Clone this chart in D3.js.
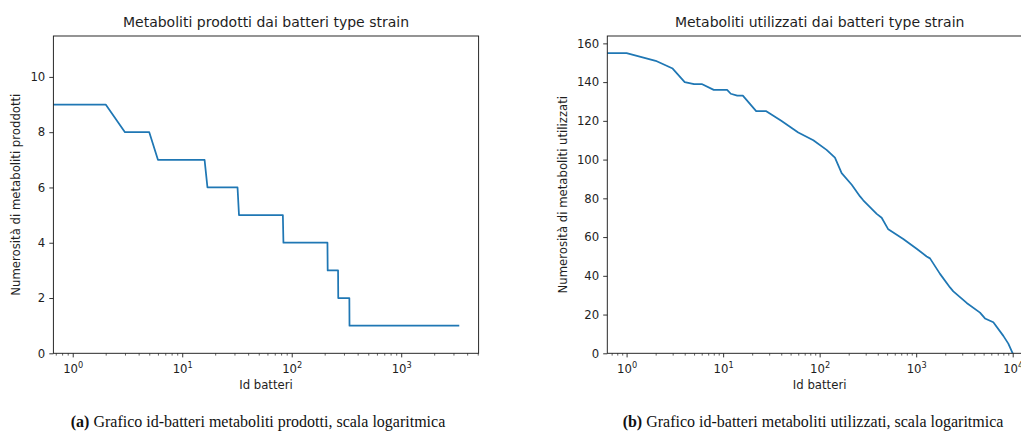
<!DOCTYPE html>
<html>
<head>
<meta charset="utf-8">
<script src="https://cdn.jsdelivr.net/npm/d3@7"></script>
<style>
  body { margin: 0; background: #fff; }
  svg { display: block; }
  .tick text { font-family: "DejaVu Sans", sans-serif; }
</style>
</head>
<body>
<svg id="chart" width="1021" height="431"></svg>
<script>
// Panel (a): metaboliti prodotti, step ranking (id, value) at the corners
const prodIds    = [0, 2, 3, 5, 6, 16, 17, 32, 33, 83, 84, 212, 213, 265, 266, 336, 337, 3390];
const prodValues = [9, 9, 8, 8, 7, 7, 6, 6, 5, 5, 4, 4, 3, 3, 2, 2, 1, 1];
const prodYTicks = [0, 2, 4, 6, 8, 10];

// Panel (b): metaboliti utilizzati
const usedIds    = [0, 1, 2, 3, 4, 5, 6, 8, 11, 12, 14, 16, 22, 28, 40, 60, 86, 118, 144, 169,
                    215, 262, 283, 390, 439, 514, 735, 1011, 1284, 1391, 1766, 2241, 2426, 3337,
                    4584, 5164, 6300, 8000, 9010, 10000];
const usedValues = [155, 155, 151, 147, 140, 139, 139, 136, 136, 134, 133, 133, 125, 125, 120, 114, 110, 105, 101, 93,
                    87, 81, 79, 72, 70, 64, 59, 54, 50, 49, 41, 34, 32, 26,
                    21, 18, 16, 9, 5, 0];
const usedYTicks = [0, 20, 40, 60, 80, 100, 120, 140, 160];

const panels = [
    {
        ids: prodIds, values: prodValues, yTicks: prodYTicks, yMax: 11.48,
        left: 53.4, right: 478.6, labelX: 16,
        title: 'Metaboliti prodotti dai batteri type strain',
        ylabel: 'Numerosità di metaboliti proddotti',
        tag: '(a)', caption: ' Grafico id-batteri metaboliti prodotti, scala logaritmica', capX: 258
    },
    {
        ids: usedIds, values: usedValues, yTicks: usedYTicks, yMax: 163.8,
        left: 607.3, right: 1032, labelX: 563,
        title: 'Metaboliti utilizzati dai batteri type strain',
        ylabel: 'Numerosità di metaboliti utilizzati',
        tag: '(b)', caption: ' Grafico id-batteri metaboliti utilizzati, scala logaritmica', capX: 813
    }
];

const plotTop = 36, plotBottom = 353.3;
const ink = '#1e1e1e';
const svg = d3.select('#chart');

panels.forEach((p, i) => {
    // log x-domain with matplotlib-like 5% padding in log space
    const lo = 1, hi = d3.max(p.ids);
    const pad = 0.05 * (Math.log10(hi) - Math.log10(lo));
    const x = d3.scaleLog()
        .domain([Math.pow(10, Math.log10(lo) - pad), Math.pow(10, Math.log10(hi) + pad)])
        .range([p.left, p.right]);
    const y = d3.scaleLinear().domain([0, p.yMax]).range([plotBottom, plotTop]);

    const g = svg.append('g');

    g.append('clipPath').attr('id', 'clip' + i)
        .append('rect')
        .attr('x', p.left).attr('y', plotTop)
        .attr('width', p.right - p.left).attr('height', plotBottom - plotTop);

    // line
    const pts = p.ids.map((id, k) => [id, p.values[k]]);
    const line = d3.line()
        .x(d => x(Math.max(d[0], 1e-6)))
        .y(d => y(d[1]));
    g.append('path')
        .datum(pts)
        .attr('clip-path', `url(#clip${i})`)
        .attr('d', line)
        .attr('fill', 'none')
        .attr('stroke', '#1f77b4')
        .attr('stroke-width', 1.75)
        .attr('stroke-linejoin', 'round');

    // minor x ticks
    const [d0, d1] = x.domain();
    const minors = [];
    for (let e = Math.floor(Math.log10(d0)); e <= Math.ceil(Math.log10(d1)); e++) {
        for (let m = 2; m <= 9; m++) {
            const v = m * Math.pow(10, e);
            if (v >= d0 && v <= d1) minors.push(v);
        }
    }
    const majors = d3.range(Math.ceil(Math.log10(d0)), Math.floor(Math.log10(d1)) + 1);

    g.append('g')
        .attr('transform', `translate(0,${plotBottom})`)
        .call(d3.axisBottom(x).tickValues(minors).tickSize(2.3).tickFormat(''))
        .call(a => a.select('.domain').remove())
        .call(a => a.selectAll('line').attr('stroke', ink).attr('stroke-width', 0.7));

    const xAxis = g.append('g')
        .attr('transform', `translate(0,${plotBottom})`)
        .call(d3.axisBottom(x).tickValues(majors.map(e => Math.pow(10, e))).tickSize(4.1).tickFormat(''))
        .call(a => a.select('.domain').remove())
        .call(a => a.selectAll('line').attr('stroke', ink).attr('stroke-width', 0.9));

    xAxis.selectAll('.tick').each(function(v) {
        const t = d3.select(this).append('text')
            .attr('y', 20)
            .attr('fill', ink)
            .attr('font-size', 11.7)
            .attr('text-anchor', 'middle');
        t.append('tspan').text('10');
        t.append('tspan')
            .attr('font-size', 8.2)
            .attr('dy', -5)
            .text(Math.round(Math.log10(v)));
    });

    const yAxis = g.append('g')
        .attr('transform', `translate(${p.left},0)`)
        .call(d3.axisLeft(y).tickValues(p.yTicks).tickSize(4.1).tickPadding(4))
        .call(a => a.select('.domain').remove())
        .call(a => a.selectAll('line').attr('stroke', ink).attr('stroke-width', 0.9));
    yAxis.selectAll('text')
        .attr('fill', ink)
        .attr('font-size', 11.7);

    // frame
    g.append('rect')
        .attr('x', p.left).attr('y', plotTop)
        .attr('width', p.right - p.left).attr('height', plotBottom - plotTop)
        .attr('fill', 'none')
        .attr('stroke', ink)
        .attr('stroke-width', 0.95);

    const cx = (p.left + p.right) / 2;
    g.append('text')
        .attr('x', cx).attr('y', 27.2)
        .attr('text-anchor', 'middle')
        .attr('font-family', 'DejaVu Sans, sans-serif')
        .attr('font-size', 14)
        .attr('fill', ink)
        .text(p.title);

    g.append('text')
        .attr('x', cx).attr('y', 388.7)
        .attr('text-anchor', 'middle')
        .attr('font-family', 'DejaVu Sans, sans-serif')
        .attr('font-size', 11.7)
        .attr('fill', ink)
        .text('Id batteri');

    g.append('text')
        .attr('transform', `translate(${p.labelX + 4},${(plotTop + plotBottom) / 2}) rotate(-90)`)
        .attr('text-anchor', 'middle')
        .attr('font-family', 'DejaVu Sans, sans-serif')
        .attr('font-size', 11.7)
        .attr('fill', ink)
        .text(p.ylabel);

    const cap = g.append('text')
        .attr('x', p.capX).attr('y', 427)
        .attr('text-anchor', 'middle')
        .attr('font-family', 'Liberation Serif, Times New Roman, serif')
        .attr('font-size', 16)
        .attr('fill', '#111');
    cap.append('tspan').attr('font-weight', 'bold').text(p.tag);
    cap.append('tspan').text(p.caption);
});
</script>
</body>
</html>
